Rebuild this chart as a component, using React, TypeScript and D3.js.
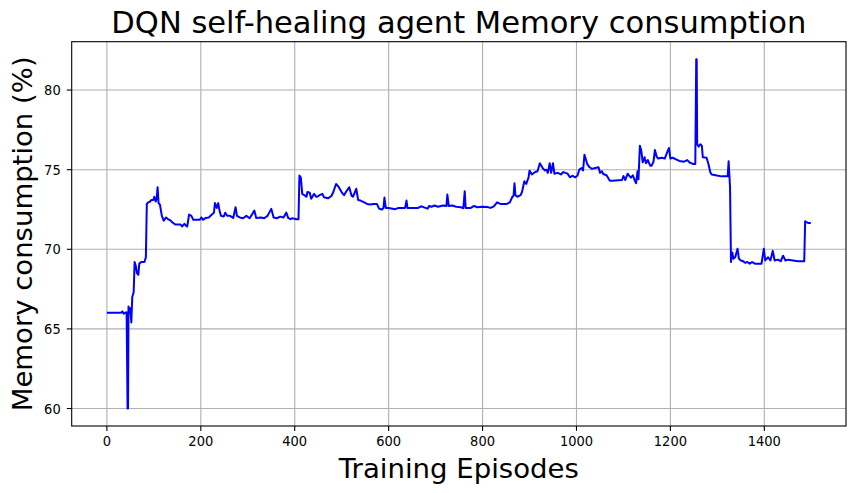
import React from "react";
import * as d3 from "d3";

const episodes = [0,30,33,36,39,42,44,45,46,48,50,52,54,57,59,62,64,67,69,73,80,83,85,88,92,95,99,101,104,106,108,110,113,117,121,126,130,136,139,146,157,160,165,168,171,175,180,184,191,198,201,205,210,217,224,228,230,234,237,240,243,249,252,256,262,269,274,277,283,290,297,304,314,318,328,335,342,350,355,362,369,376,382,386,391,395,404,408,410,413,416,422,425,427,432,435,441,446,448,453,459,462,471,478,482,488,494,500,505,509,516,521,524,531,535,540,547,554,561,568,575,580,586,589,591,594,600,614,621,635,638,640,663,669,677,683,686,691,698,705,716,723,725,728,735,744,754,759,762,764,775,782,789,799,810,817,824,831,838,852,858,863,866,868,870,874,881,884,889,893,898,900,905,912,917,922,928,933,936,939,943,946,950,953,960,967,972,981,986,992,997,1002,1006,1011,1014,1017,1023,1028,1033,1040,1047,1050,1054,1057,1064,1071,1076,1097,1100,1104,1109,1113,1116,1120,1123,1127,1130,1132,1135,1138,1141,1145,1148,1152,1157,1160,1164,1167,1171,1174,1181,1188,1193,1197,1200,1205,1212,1219,1229,1236,1241,1248,1253,1255,1256,1257,1260,1264,1267,1269,1277,1281,1285,1288,1299,1309,1322,1324,1327,1329,1330,1332,1334,1338,1343,1346,1350,1355,1359,1364,1369,1374,1380,1394,1399,1402,1408,1413,1418,1422,1429,1435,1440,1445,1451,1461,1472,1485,1487,1493,1499];

const memory = [66.02,66.02,66.1,65.95,66.02,66.05,60.0,60.0,66.4,66.0,66.3,65.4,67.0,67.3,69.2,68.9,68.5,68.4,69.1,69.2,69.2,69.5,72.85,72.95,73.0,73.1,73.1,73.3,73.0,73.2,73.9,72.9,72.8,72.1,71.8,72.0,71.9,71.8,71.7,71.55,71.55,71.43,71.6,71.5,71.43,72.18,72.1,71.85,71.85,71.85,72.0,71.85,71.97,72.0,72.2,72.3,72.9,72.6,72.9,72.4,72.1,72.06,72.3,72.1,72.1,71.97,72.64,72.1,72.0,71.95,72.1,71.95,72.43,71.97,72.0,71.95,72.1,72.54,72.0,71.95,72.05,72.0,72.3,71.97,71.89,71.95,71.89,71.89,74.63,74.5,73.48,73.37,73.3,73.6,73.55,73.17,73.48,73.3,73.3,73.4,73.48,73.27,73.2,73.35,73.58,74.1,73.9,73.58,73.4,73.6,73.9,73.37,73.3,73.8,73.1,73.06,72.96,72.85,72.82,72.85,72.85,72.54,72.5,72.6,73.25,72.6,72.6,72.52,72.6,72.6,73.06,72.6,72.6,72.7,72.62,72.55,72.72,72.67,72.75,72.67,72.75,72.72,73.44,72.72,72.75,72.67,72.64,72.58,73.64,72.6,72.6,72.72,72.64,72.67,72.66,72.6,72.7,72.95,72.85,72.85,72.95,73.27,73.37,74.14,73.4,73.3,73.4,73.6,74.27,74.1,74.52,74.94,74.7,74.85,74.9,75.4,75.1,74.95,75.0,74.8,75.4,74.8,75.4,74.75,74.8,74.7,74.85,74.75,74.52,74.62,74.52,74.62,75.0,75.1,74.95,75.94,75.35,75.15,75.05,75.1,75.15,74.8,74.9,74.73,74.65,74.3,74.3,74.35,74.6,74.35,74.75,74.6,74.5,74.65,74.4,74.15,74.9,74.4,76.5,76.2,75.46,75.78,75.4,75.6,75.25,75.25,75.5,76.24,75.8,75.7,75.75,75.7,76.09,76.36,75.7,75.75,75.65,75.55,75.5,75.6,75.45,75.36,75.36,81.94,81.94,76.6,76.45,76.6,76.5,75.78,75.75,75.36,74.83,74.7,74.63,74.58,74.58,75.53,73.9,69.2,69.6,69.8,69.4,69.5,70.03,69.4,69.3,69.25,69.15,69.2,69.1,69.2,69.1,69.1,70.03,69.3,69.5,69.3,69.9,69.3,69.35,69.25,69.6,69.3,69.35,69.3,69.25,69.25,71.76,71.65,71.65];

const xTicks = [0, 200, 400, 600, 800, 1000, 1200, 1400];
const yTicks = [60, 65, 70, 75, 80];

const W = 856, H = 493;
const L = 71.7, R = 846, T = 41.7, B = 426;

export default function App() {
  const n = Math.min(episodes.length, memory.length);
  const pts: [number, number][] = [];
  for (let i = 0; i < n; i++) pts.push([episodes[i], memory[i]]);
  const xMin = d3.min(episodes)!, xMax = d3.max(episodes)!;
  const yMin = d3.min(memory)!, yMax = d3.max(memory)!;
  const xPad = (xMax - xMin) * 0.05, yPad = (yMax - yMin) * 0.05;
  const x = d3.scaleLinear().domain([xMin - xPad, xMax + xPad]).range([L, R]);
  const y = d3.scaleLinear().domain([yMin - yPad, yMax + yPad]).range([B, T]);
  const line = d3.line<[number, number]>().x(d => x(d[0])).y(d => y(d[1]));
  const font = "DejaVu Sans";
  const digitW = 8.3;
  return (
    <svg width={W} height={H} style={{ position: "absolute", left: 0, top: 0, background: "#fff" }}>
      <rect x={0} y={0} width={W} height={H} fill="#fff" />
      {xTicks.map(t => (
        <line key={"gx" + t} x1={x(t)} x2={x(t)} y1={T} y2={B} stroke="#b0b0b0" strokeWidth={1.1} />
      ))}
      {yTicks.map(t => (
        <line key={"gy" + t} x1={L} x2={R} y1={y(t)} y2={y(t)} stroke="#b0b0b0" strokeWidth={1.1} />
      ))}
      <path d={line(pts) ?? ""} fill="none" stroke="#0000ff" strokeWidth={2} strokeLinejoin="round" strokeLinecap="butt" />
      <rect x={L} y={T} width={R - L} height={B - T} fill="none" stroke="#000" strokeWidth={1.1} />
      {xTicks.map(t => (
        <g key={"tx" + t}>
          <line x1={x(t)} x2={x(t)} y1={B} y2={B + 4.9} stroke="#000" strokeWidth={1.1} />
          <text x={x(t)} y={446} textAnchor="middle" fontFamily={font} fontSize={13.7}
            textLength={String(t).length * digitW} lengthAdjust="spacingAndGlyphs">{t}</text>
        </g>
      ))}
      {yTicks.map(t => (
        <g key={"ty" + t}>
          <line x1={L - 4.9} x2={L} y1={y(t)} y2={y(t)} stroke="#000" strokeWidth={1.1} />
          <text x={L - 11} y={y(t) + 5} textAnchor="end" fontFamily={font} fontSize={13.7}
            textLength={String(t).length * digitW} lengthAdjust="spacingAndGlyphs">{t}</text>
        </g>
      ))}
      <text x={(L + R) / 2} y={33} textAnchor="middle" fontFamily={font} fontSize={30}
        textLength={695} lengthAdjust="spacingAndGlyphs">DQN self-healing agent Memory consumption</text>
      <text x={(L + R) / 2} y={478} textAnchor="middle" fontFamily={font} fontSize={27.4}
        textLength={240} lengthAdjust="spacingAndGlyphs">Training Episodes</text>
      <text transform={`translate(32, ${(T + B) / 2}) rotate(-90)`} textAnchor="middle" fontFamily={font} fontSize={27.4}
        textLength={355} lengthAdjust="spacingAndGlyphs">Memory consumption (%)</text>
    </svg>
  );
}
